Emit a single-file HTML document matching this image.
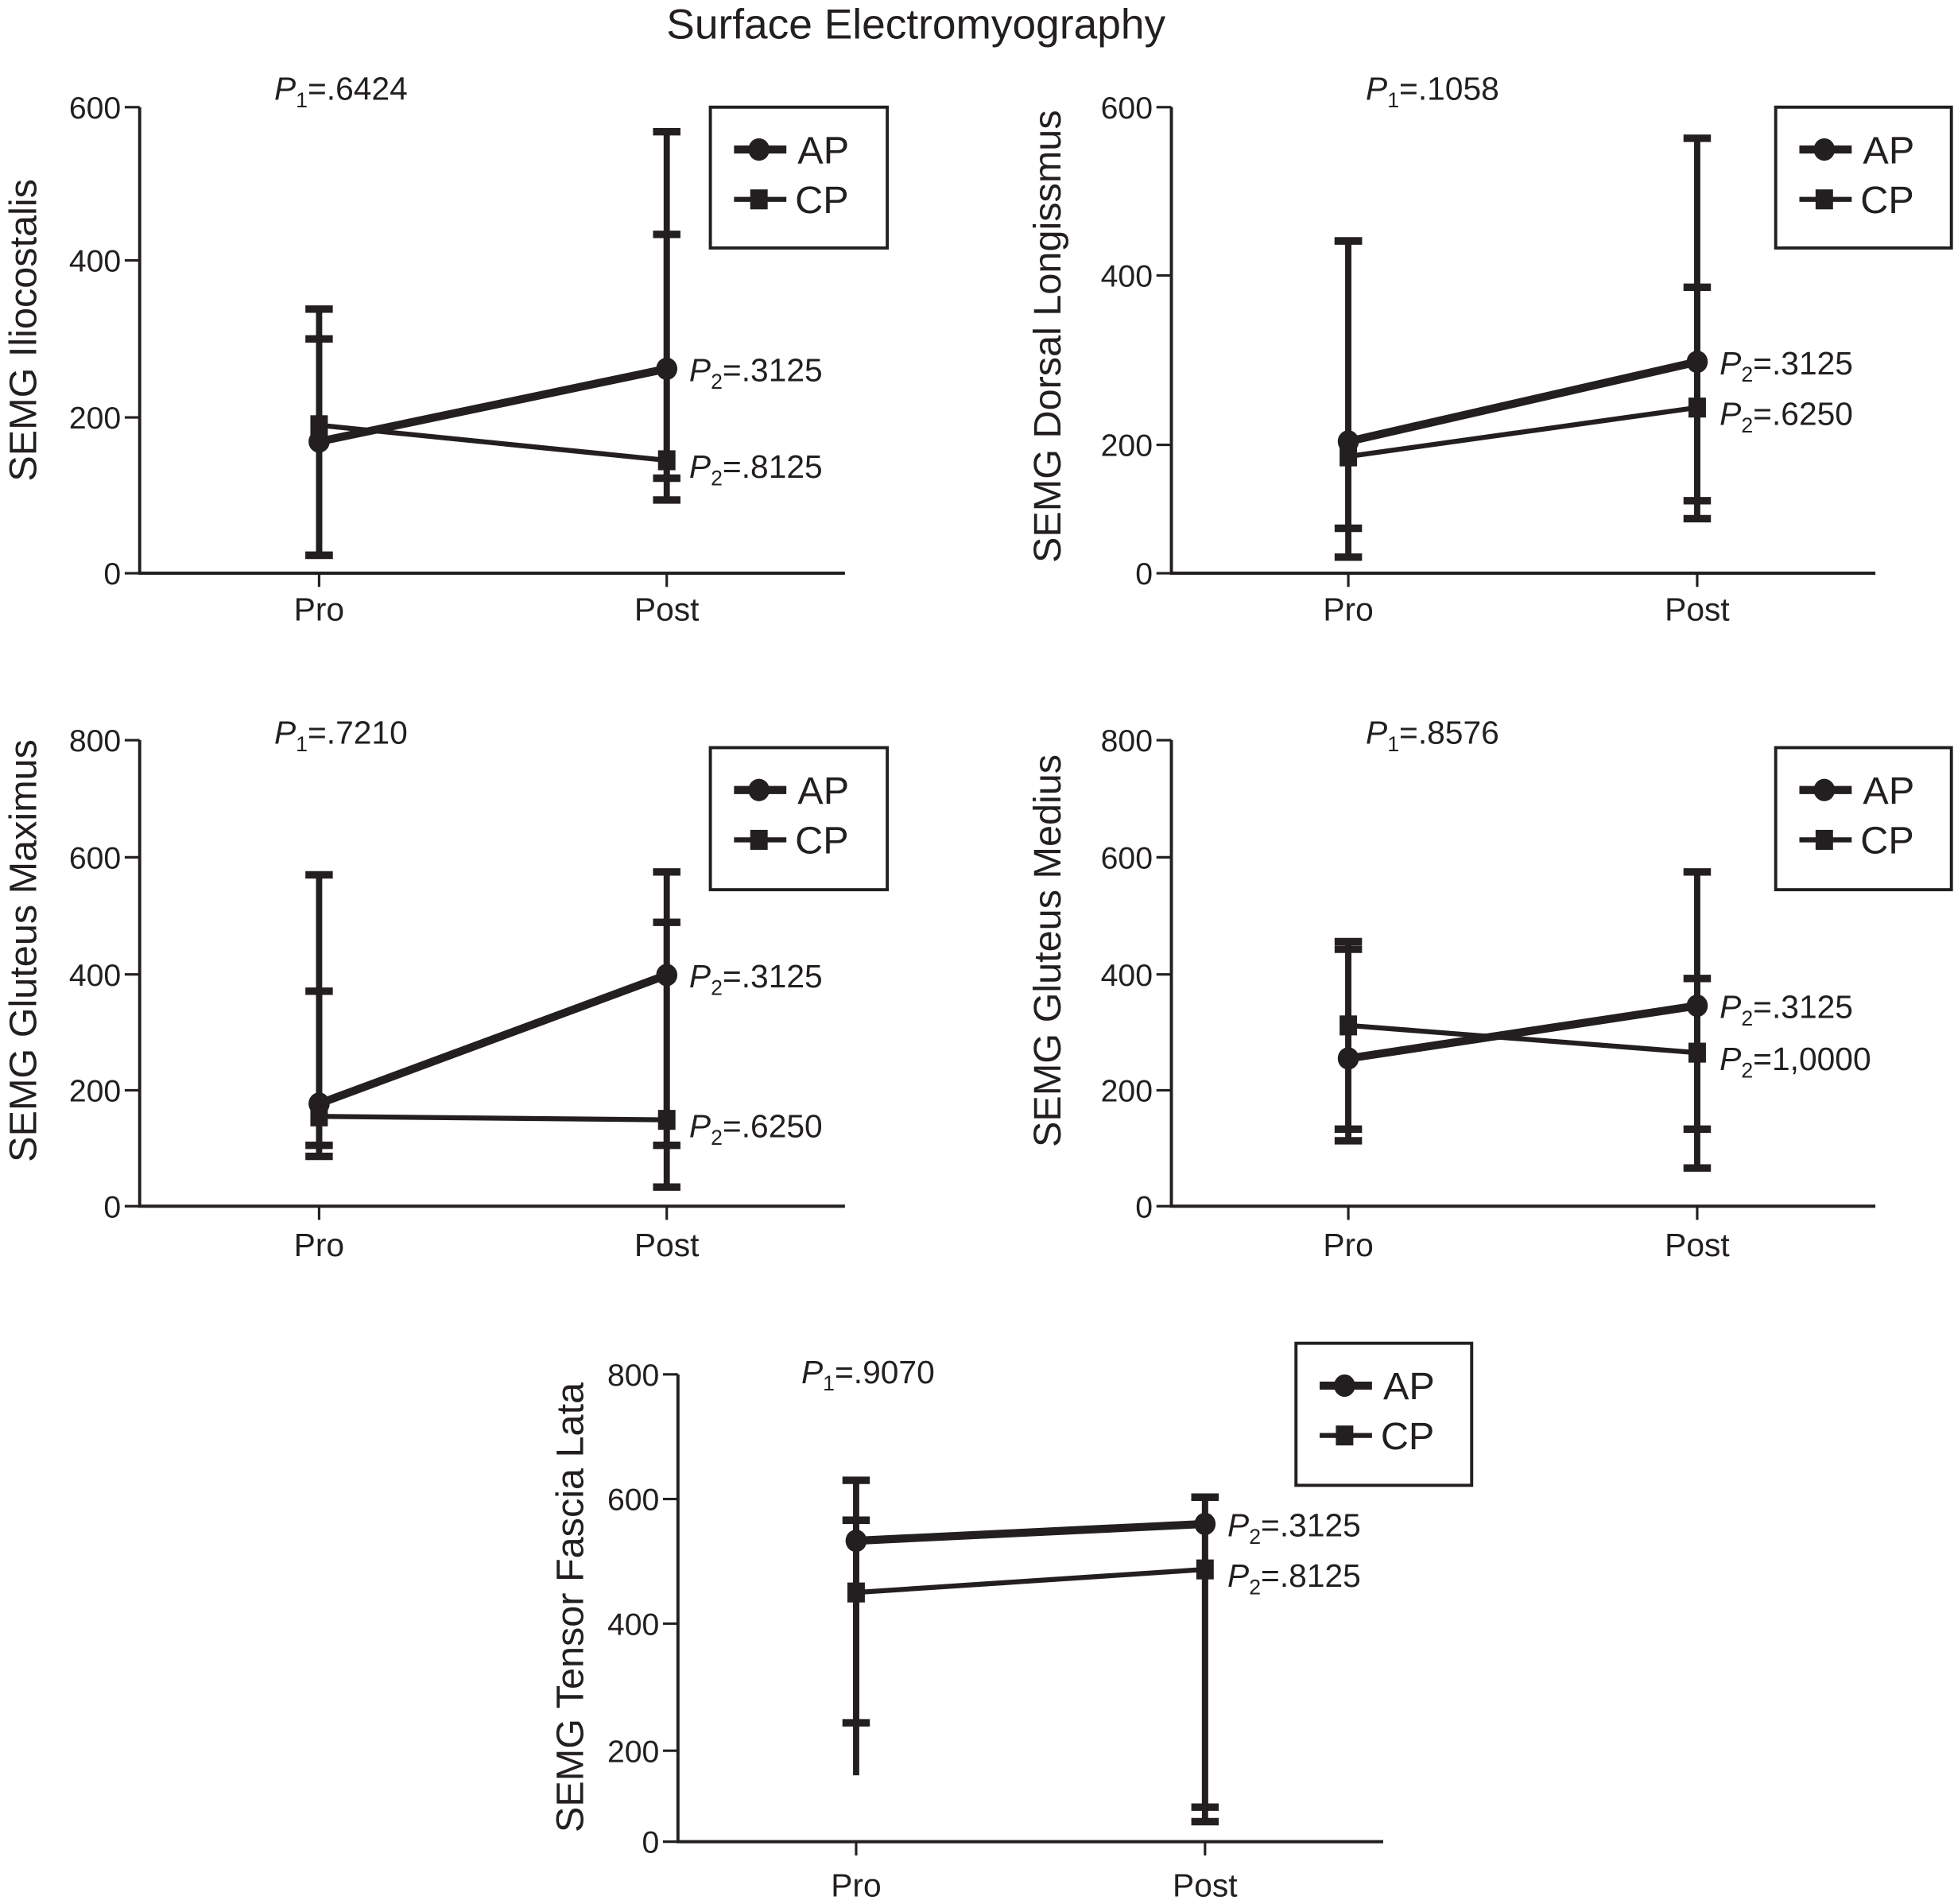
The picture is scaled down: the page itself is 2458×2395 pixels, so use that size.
<!DOCTYPE html>
<html><head><meta charset="utf-8"><style>
html,body{margin:0;padding:0;background:#fff;}
svg{display:block;font-family:"Liberation Sans",Arial,sans-serif;}
</style></head><body>
<svg id="fig" width="2458" height="2395" viewBox="0 0 1568 1528" xmlns="http://www.w3.org/2000/svg">
<rect x="0" y="0" width="1568" height="1528" fill="#fff"/>
<text x="735" y="31" font-size="34" text-anchor="middle" fill="#231f20">Surface Electromyography</text>
</svg>
<script>
// ---- data ----
const categories = ["Pro", "Post"];
const seriesNames = ["AP", "CP"];
const panelTitles = ["SEMG Iliocostalis", "SEMG Dorsal Longissmus", "SEMG Gluteus Maximus", "SEMG Gluteus Medius", "SEMG Tensor Fascia Lata"];
const yTickLabels1 = [0, 200, 400, 600];
const yTickLabels2 = [0, 200, 400, 600];
const yTickLabels3 = [0, 200, 400, 600, 800];
const yTickLabels4 = [0, 200, 400, 600, 800];
const yTickLabels5 = [0, 200, 400, 600, 800];
// means [Pro, Post]
const apMean1 = [169, 262]; const cpMean1 = [190, 145];
const apMean2 = [204, 298]; const cpMean2 = [182, 244];
const apMean3 = [177, 399]; const cpMean3 = [155, 149];
const apMean4 = [255, 346]; const cpMean4 = [312, 265];
const apMean5 = [533, 560]; const cpMean5 = [450, 487];
// error bar ends [Pro, Post]
const apLow1 = [23, 94];   const apHigh1 = [300, 434];
const cpLow1 = [23, 122];  const cpHigh1 = [338, 568];
const apLow2 = [25, 85];   const apHigh2 = [441, 386];
const cpLow2 = [70, 113];  const cpHigh2 = [441, 563];
const apLow3 = [86, 33];   const apHigh3 = [570, 489];
const cpLow3 = [105, 105]; const cpHigh3 = [371, 575];
const apLow4 = [113, 66];  const apHigh4 = [443, 575];
const cpLow4 = [133, 133]; const cpHigh4 = [456, 393];
const apLow5 = [146, 44];  const apHigh5 = [630, 603];
const cpLow5 = [244, 76];  const cpHigh5 = [566, 603];
const p1Labels = [".6424", ".1058", ".7210", ".8576", ".9070"];
const p2ApLabels = [".3125", ".3125", ".3125", ".3125", ".3125"];
const p2CpLabels = [".8125", ".6250", ".6250", "1,0000", ".8125"];

// ---- layout ----
const panels = [
 {ax:112, xEnd:678, xs:[256,535], tickPx:[460,335,209,86], ticks:yTickLabels1, ap:apMean1, cp:cpMean1, apL:apLow1, apH:apHigh1, cpL:cpLow1, cpH:cpHigh1, leg:[570,86,142,113], p1:[220,80], yl:[18,265], xlY:498, noCap:[]},
 {ax:940, xEnd:1505, xs:[1082,1362], tickPx:[460,357,221,86], ticks:yTickLabels2, ap:apMean2, cp:cpMean2, apL:apLow2, apH:apHigh2, cpL:cpLow2, cpH:cpHigh2, leg:[1425,86,141,113], p1:[1096,80], yl:[840,270], xlY:498, noCap:[]},
 {ax:112, xEnd:678, xs:[256,535], tickPx:[968,875,782,688,594], ticks:yTickLabels3, ap:apMean3, cp:cpMean3, apL:apLow3, apH:apHigh3, cpL:cpLow3, cpH:cpHigh3, leg:[570,600,142,114], p1:[220,597], yl:[18,763], xlY:1008, noCap:[]},
 {ax:940, xEnd:1505, xs:[1082,1362], tickPx:[968,875,782,688,594], ticks:yTickLabels4, ap:apMean4, cp:cpMean4, apL:apLow4, apH:apHigh4, cpL:cpLow4, cpH:cpHigh4, leg:[1425,600,141,114], p1:[1096,597], yl:[840,763], xlY:1008, noCap:[]},
 {ax:544, xEnd:1110, xs:[687,967], tickPx:[1478,1405,1303,1203,1103], ticks:yTickLabels5, ap:apMean5, cp:cpMean5, apL:apLow5, apH:apHigh5, cpL:cpLow5, cpH:cpHigh5, leg:[1040,1078,141,114], p1:[643,1110], yl:[457,1290], xlY:1522, noCap:["ap-lo-0"]}
];
const NS = "http://www.w3.org/2000/svg";
const svg = document.getElementById("fig");
const INK = "#231f20";
function mk(tag, attrs, parent, text){
  const e = document.createElementNS(NS, tag);
  for (const k in attrs) e.setAttribute(k, attrs[k]);
  if (text !== undefined) e.textContent = text;
  (parent || svg).appendChild(e);
  return e;
}
function yScale(p, v){
  const t = p.ticks, px = p.tickPx;
  for (let i = 0; i < t.length - 1; i++){
    if (v <= t[i+1] || i === t.length - 2){
      return px[i] + (v - t[i]) / (t[i+1] - t[i]) * (px[i+1] - px[i]);
    }
  }
}
function xScale(p, i){ return p.xs[i]; }
function pLabel(g, x, y, sub, val){
  const t = mk("text", {x:x, y:y, "font-size":26, fill:INK}, g);
  const a = document.createElementNS(NS,"tspan"); a.setAttribute("font-style","italic"); a.textContent="P"; t.appendChild(a);
  const b = document.createElementNS(NS,"tspan"); b.setAttribute("font-size","17"); b.setAttribute("dy","6"); b.textContent=sub; t.appendChild(b);
  const c = document.createElementNS(NS,"tspan"); c.setAttribute("dy","-6"); c.textContent="="+val; t.appendChild(c);
  return t;
}
panels.forEach((p, pi) => {
  const g = mk("g", {});
  
  
  const y0 = p.tickPx[0], yTop = p.tickPx[p.tickPx.length-1];
  const yAxis = mk("line", {x1:p.ax, y1:yTop, x2:p.ax, y2:y0+1, stroke:INK, "stroke-width":2.5}, g);
  
  
  const xAxis = mk("line", {x1:p.ax-1, y1:y0, x2:p.xEnd, y2:y0, stroke:INK, "stroke-width":2.5}, g);
  
  
  p.ticks.forEach((tv) => {
    const ty = yScale(p, tv);
    mk("line", {x1:p.ax-12, y1:ty, x2:p.ax, y2:ty, stroke:INK, "stroke-width":2}, g);
    const tl = mk("text", {x:p.ax-15, y:ty+9, "font-size":25, "text-anchor":"end", fill:INK}, g, String(tv));
    
    
  });
  categories.forEach((c, i) => {
    const x = xScale(p, i);
    mk("line", {x1:x, y1:y0, x2:x, y2:y0+11, stroke:INK, "stroke-width":2}, g);
    const xl = mk("text", {x:x, y:p.xlY, "font-size":26, "text-anchor":"middle", fill:INK}, g, c);
    
    
  });
  const yt = mk("text", {x:p.yl[0], y:p.yl[1], "font-size":31, "text-anchor":"middle", fill:INK, transform:"rotate(-90 "+p.yl[0]+" "+p.yl[1]+") translate(0,11)"}, g, panelTitles[pi]);
  
  
  const pl = pLabel(g, p.p1[0], p.p1[1], "1", p1Labels[pi]);
  
  
  // error bars
  [["ap", p.apL, p.apH], ["cp", p.cpL, p.cpH]].forEach((trip) => {
    categories.forEach((c, i) => {
      const x = xScale(p, i);
      const lo = yScale(p, trip[1][i]), hi = yScale(p, trip[2][i]);
      const eb = mk("line", {x1:x, y1:lo, x2:x, y2:hi, stroke:INK, "stroke-width":5}, g);
      
      
      if (p.noCap.indexOf(trip[0]+"-lo-"+i) < 0) mk("line", {x1:x-11, y1:lo, x2:x+11, y2:lo, stroke:INK, "stroke-width":6}, g);
      mk("line", {x1:x-11, y1:hi, x2:x+11, y2:hi, stroke:INK, "stroke-width":6}, g);
    });
  });
  const apl = mk("line", {x1:xScale(p,0), y1:yScale(p,p.ap[0]), x2:xScale(p,1), y2:yScale(p,p.ap[1]), stroke:INK, "stroke-width":6.5}, g);
  
  
  const cpl = mk("line", {x1:xScale(p,0), y1:yScale(p,p.cp[0]), x2:xScale(p,1), y2:yScale(p,p.cp[1]), stroke:INK, "stroke-width":4}, g);
  
  
  categories.forEach((c, i) => {
    const x = xScale(p, i);
    const ca = mk("ellipse", {cx:x, cy:yScale(p,p.ap[i]), rx:8.5, ry:9, fill:INK}, g);
    
    
    const sq = mk("rect", {x:x-7, y:yScale(p,p.cp[i])-8, width:14, height:16, fill:INK}, g);
    
    
  });
  const pa = pLabel(g, xScale(p,1)+18, yScale(p,p.ap[1])+10, "2", p2ApLabels[pi]);
  
  
  const pc = pLabel(g, xScale(p,1)+18, yScale(p,p.cp[1])+14, "2", p2CpLabels[pi]);
  
  
  const L = p.leg;
  const lg = mk("g", {}, g);
  
  
  mk("rect", {x:L[0], y:L[1], width:L[2], height:L[3], fill:"#fff", stroke:INK, "stroke-width":2.5}, lg);
  const r1 = L[1]+34, r2 = L[1]+74;
  const le1 = mk("g", {}, lg);
  
  
  mk("line", {x1:L[0]+19, y1:r1, x2:L[0]+61, y2:r1, stroke:INK, "stroke-width":6.5}, le1);
  mk("ellipse", {cx:L[0]+39, cy:r1, rx:8.5, ry:9, fill:INK}, le1);
  mk("text", {x:L[0]+70, y:r1+11, "font-size":31, fill:INK}, le1, seriesNames[0]);
  const le2 = mk("g", {}, lg);
  
  
  mk("line", {x1:L[0]+19, y1:r2, x2:L[0]+61, y2:r2, stroke:INK, "stroke-width":4}, le2);
  mk("rect", {x:L[0]+32, y:r2-8, width:14, height:16, fill:INK}, le2);
  mk("text", {x:L[0]+68, y:r2+11, "font-size":31, fill:INK}, le2, seriesNames[1]);
});
</script>
</body></html>
